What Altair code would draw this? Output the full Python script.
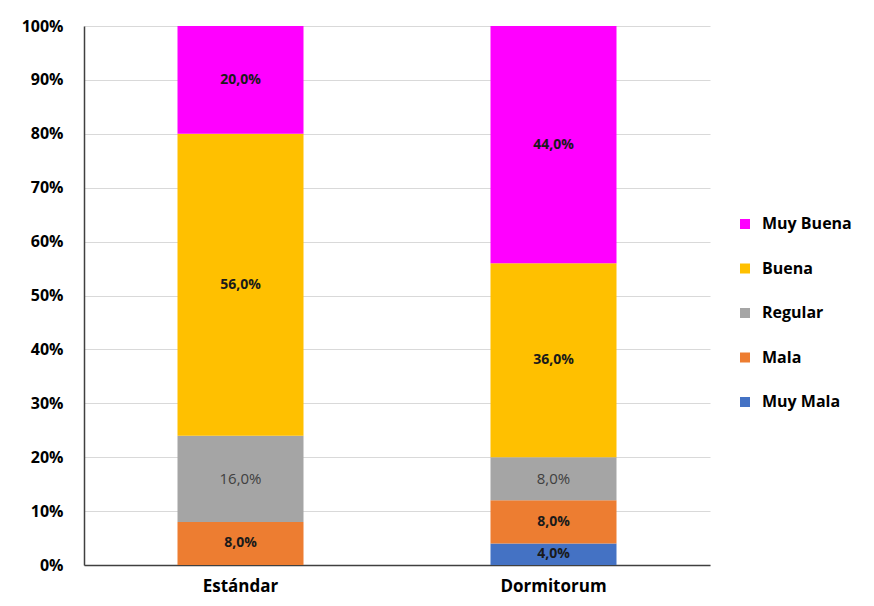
import altair as alt
import pandas as pd

grupos = ["Estándar", "Dormitorum"]
categorias = ["Muy Mala", "Mala", "Regular", "Buena", "Muy Buena"]
colores = ["#4472C4", "#ED7D31", "#A5A5A5", "#FFC000", "#FF00FF"]
estandar = [0.0, 8.0, 16.0, 56.0, 20.0]
dormitorum = [4.0, 8.0, 8.0, 36.0, 44.0]

rows = []
for g, vals in zip(grupos, [estandar, dormitorum]):
    for i, (c, v) in enumerate(zip(categorias, vals)):
        rows.append({"grupo": g, "cat": c, "orden": i, "v": v / 100.0})
df = pd.DataFrame(rows)

legend_order = ["Muy Buena", "Buena", "Regular", "Mala", "Muy Mala"]
legend_colors = [colores[categorias.index(c)] for c in legend_order]

FONT = "Open Sans"

base = alt.Chart(df).transform_stack(
    stack="v", groupby=["grupo"], as_=["y0", "y1"], sort=[alt.SortField("orden", order="ascending")]
).transform_calculate(
    mid="(datum.y0 + datum.y1) / 2",
    lab="replace(format(datum.v * 100, '.1f'), '.', ',') + '%'"
)

x_enc = alt.X("grupo:N", sort=grupos, title=None,
              scale=alt.Scale(paddingInner=0, paddingOuter=0),
              axis=alt.Axis(labelAngle=0, labelFont=FONT, labelFontSize=17, labelFontWeight="bold",
                            labelColor="#000000", ticks=False, labelPadding=13, grid=False,
                            domainColor="#404040", domainWidth=1.5))

bars = base.mark_bar(size=126).encode(
    x=x_enc,
    y=alt.Y("y0:Q", scale=alt.Scale(domain=[0, 1]), title=None,
            axis=alt.Axis(format=".0%", values=[i / 10 for i in range(11)], labelFont=FONT,
                          labelFontSize=16, labelFontWeight="bold", labelColor="#000000",
                          ticks=False, labelPadding=21, gridColor="#D9D9D9",
                          domainColor="#404040", domainWidth=1.5)),
    y2="y1:Q",
    color=alt.Color("cat:N", scale=alt.Scale(domain=legend_order, range=legend_colors),
                    legend=alt.Legend(title=None, orient="none", legendX=653, legendY=190,
                                      symbolType="square", symbolSize=100, symbolStrokeWidth=0,
                                      labelFont=FONT, labelFontSize=16, labelFontWeight="bold",
                                      labelColor="#000000", rowPadding=28.5, labelOffset=9)),
)

text_bold = base.transform_filter("datum.v > 0 && datum.cat != 'Regular'").mark_text(
    font=FONT, fontSize=14, fontWeight="bold", color="#1a1a1a"
).encode(x=alt.X("grupo:N", sort=grupos), y="mid:Q", text="lab:N")

text_reg = base.transform_filter("datum.v > 0 && datum.cat == 'Regular'").mark_text(
    font=FONT, fontSize=15, fontWeight="normal", color="#404040"
).encode(x=alt.X("grupo:N", sort=grupos), y="mid:Q", text="lab:N")

chart = alt.layer(bars, text_bold, text_reg).properties(
    width=626, height=539,
    background="#ffffff",
    autosize=alt.AutoSizeParams(type="none"),
    padding={"left": 84, "top": 26, "right": 164, "bottom": 41}
).configure_view(strokeWidth=0, strokeOpacity=0)

chart.save("out.html", embed_options={"renderer": "svg", "actions": False})
